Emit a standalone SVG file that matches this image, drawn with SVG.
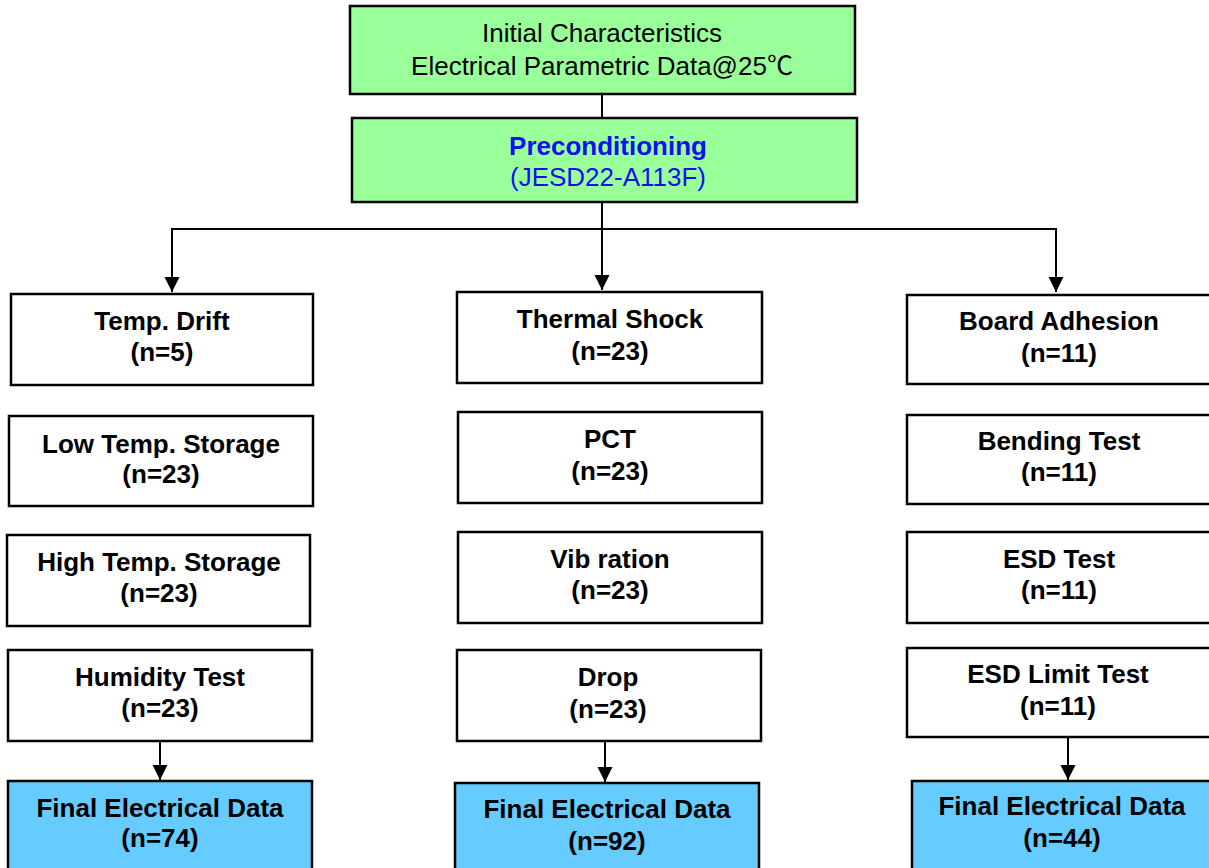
<svg xmlns="http://www.w3.org/2000/svg" width="1209" height="868" viewBox="0 0 1209 868">
<style>
.box{stroke:#000;stroke-width:2.5}
.w{fill:#fff}
.g{fill:#99FF99}
.b{fill:#66CCFF}
text{font-family:"Liberation Sans","Noto Sans CJK SC",Arial,sans-serif;font-size:26px;text-anchor:middle;fill:#000}
.bd{font-weight:bold}
.blue{fill:#1010F0}
.ln{stroke:#000;stroke-width:2;fill:none}
</style>
<defs>
<marker id="ah" markerUnits="userSpaceOnUse" markerWidth="16" markerHeight="16" viewBox="0 0 16 16" refX="15" refY="7.5" orient="auto">
<path d="M0,0 L15,7.5 L0,15 z" fill="#000"/>
</marker>
</defs>
<rect x="0" y="0" width="1209" height="868" fill="#fff"/>
<g id="connectors">
<line class="ln" x1="602" y1="94" x2="602" y2="118"/>
<line class="ln" x1="602" y1="202" x2="602" y2="290" marker-end="url(#ah)"/>
<line class="ln" x1="172" y1="229" x2="1056" y2="229"/>
<line class="ln" x1="172" y1="228" x2="172" y2="292" marker-end="url(#ah)"/>
<line class="ln" x1="1056" y1="228" x2="1056" y2="292" marker-end="url(#ah)"/>
<line class="ln" x1="160" y1="741" x2="160" y2="780" marker-end="url(#ah)"/>
<line class="ln" x1="605" y1="741" x2="605" y2="782" marker-end="url(#ah)"/>
<line class="ln" x1="1068" y1="737" x2="1068" y2="780" marker-end="url(#ah)"/>
</g>
<g id="initial">
<rect class="box g" x="350" y="6" width="505" height="88"/>
<text x="602" y="42">Initial Characteristics</text>
<text x="602" y="75">Electrical Parametric Data@25℃</text>
</g>
<g id="precond">
<rect class="box g" x="352" y="118" width="505" height="84"/>
<text class="bd blue" x="608" y="155">Preconditioning</text>
<text class="blue" x="608" y="186">(JESD22-A113F)</text>
</g>
<g id="tempdrift">
<rect class="box w" x="11" y="294" width="302" height="91"/>
<text class="bd" x="162" y="330">Temp. Drift</text>
<text class="bd" x="162" y="361">(n=5)</text>
</g>
<g id="lowtemp">
<rect class="box w" x="9" y="416" width="304" height="90"/>
<text class="bd" x="161" y="453">Low Temp. Storage</text>
<text class="bd" x="161" y="483">(n=23)</text>
</g>
<g id="hightemp">
<rect class="box w" x="7" y="535" width="303" height="91"/>
<text class="bd" x="159" y="571">High Temp. Storage</text>
<text class="bd" x="159" y="602">(n=23)</text>
</g>
<g id="humidity">
<rect class="box w" x="8" y="650" width="304" height="91"/>
<text class="bd" x="160" y="686">Humidity Test</text>
<text class="bd" x="160" y="717">(n=23)</text>
</g>
<g id="final1">
<rect class="box b" x="8" y="781" width="304" height="100"/>
<text class="bd" x="160" y="817">Final Electrical Data</text>
<text class="bd" x="160" y="847">(n=74)</text>
</g>
<g id="thermal">
<rect class="box w" x="457" y="292" width="305" height="91"/>
<text class="bd" x="610" y="328">Thermal Shock</text>
<text class="bd" x="610" y="360">(n=23)</text>
</g>
<g id="pct">
<rect class="box w" x="458" y="412" width="304" height="91"/>
<text class="bd" x="610" y="448">PCT</text>
<text class="bd" x="610" y="480">(n=23)</text>
</g>
<g id="vibration">
<rect class="box w" x="458" y="532" width="304" height="91"/>
<text class="bd" x="610" y="568">Vib ration</text>
<text class="bd" x="610" y="599">(n=23)</text>
</g>
<g id="drop">
<rect class="box w" x="457" y="650" width="304" height="91"/>
<text class="bd" x="608" y="686">Drop</text>
<text class="bd" x="608" y="718">(n=23)</text>
</g>
<g id="final2">
<rect class="box b" x="455" y="783" width="304" height="100"/>
<text class="bd" x="607" y="818">Final Electrical Data</text>
<text class="bd" x="607" y="850">(n=92)</text>
</g>
<g id="board">
<rect class="box w" x="907" y="295" width="304" height="89"/>
<text class="bd" x="1059" y="330">Board Adhesion</text>
<text class="bd" x="1059" y="362">(n=11)</text>
</g>
<g id="bending">
<rect class="box w" x="907" y="415" width="304" height="89"/>
<text class="bd" x="1059" y="450">Bending Test</text>
<text class="bd" x="1059" y="481">(n=11)</text>
</g>
<g id="esd">
<rect class="box w" x="907" y="532" width="304" height="91"/>
<text class="bd" x="1059" y="568">ESD Test</text>
<text class="bd" x="1059" y="599">(n=11)</text>
</g>
<g id="esdlimit">
<rect class="box w" x="907" y="648" width="304" height="89"/>
<text class="bd" x="1058" y="683">ESD Limit Test</text>
<text class="bd" x="1058" y="715">(n=11)</text>
</g>
<g id="final3">
<rect class="box b" x="912" y="781" width="300" height="100"/>
<text class="bd" x="1062" y="815">Final Electrical Data</text>
<text class="bd" x="1062" y="847">(n=44)</text>
</g>
</svg>
